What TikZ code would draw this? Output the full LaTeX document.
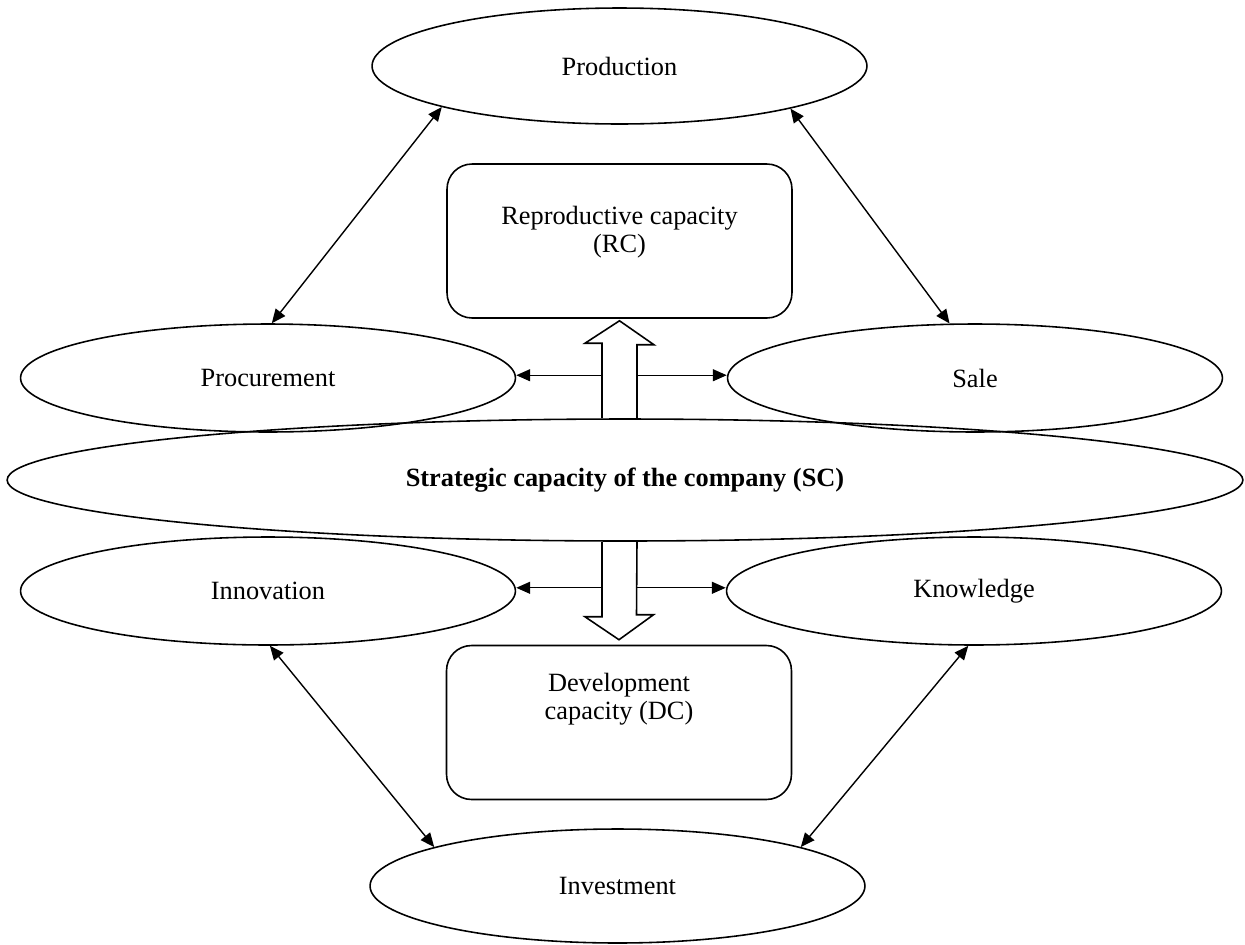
\documentclass[tikz,border=0pt]{standalone}
\usepackage{fontspec}
\setmainfont{Liberation Serif}
\usetikzlibrary{arrows.meta,shapes.geometric,calc}

\begin{document}
\begin{tikzpicture}[
    x=0.02cm, y=-0.02cm,
    font=\fontsize{15}{16}\selectfont,
    oval/.style={ellipse, draw, line width=0.9pt, inner sep=0pt, minimum width=9.9cm, minimum height=2.16cm},
    capbox/.style={rectangle, draw, line width=0.9pt, rounded corners=0.5cm, minimum width=6.9cm, minimum height=3.08cm},
    note/.style={align=center, inner sep=0pt},
    link/.style={line width=0.8pt, -{Triangle[length=0.28cm, width=0.24cm]}},
    both/.style={line width=0.8pt, {Triangle[length=0.28cm, width=0.24cm]}-{Triangle[length=0.28cm, width=0.24cm]}},
    hollow/.style={line width=0.9pt, line join=miter}
]

\useasboundingbox (0,0) rectangle (1245,944);

\node[oval, minimum height=2.32cm] (prod) at (619.5,66) {Production};
\node[oval] (proc) at (268,378) {Procurement};
\node[oval] (sale) at (975,378) {Sale};
\node[oval, minimum width=24.72cm, minimum height=2.44cm] (sc) at (625,480) {\textbf{Strategic capacity of the company (SC)}};
\node[oval] (innov) at (268,591) {Innovation};
\node[oval] (know) at (974,591) {Knowledge};
\node[oval, minimum height=2.28cm] (inv) at (617.5,886) {Investment};

\node[capbox] (rc) at (619.5,241) {};
\node[note] (rctext) at (619.5,232) {Reproductive capacity\\(RC)};
\node[capbox] (dc) at (619,722.5) {};
\node[note] (dctext) at (619,699) {Development\\capacity (DC)};

\coordinate (upbase) at (rc.south |- sc.north);
\coordinate (dnbase) at (rc.south |- sc.south);
\coordinate (upL) at ($(upbase)+(-17.5,-43)$);
\coordinate (upR) at ($(upbase)+(17.5,-43)$);
\coordinate (dnL) at ($(dnbase)+(-17.5,46)$);
\coordinate (dnR) at ($(dnbase)+(17.5,46)$);

\draw[hollow] ($(upbase)+(-17.5,0)$) -- ++(0,-75) -- ++(-17,0) -- ($(rc.south)+(0,2)$)
    -- ++(34.5,24) -- ++(-17,0) -- ($(upbase)+(17.5,0)$);
\draw[hollow] ($(dnbase)+(-17.5,0)$) -- ++(0,75) -- ++(-17,0) -- ($(dc.north)+(0,-5)$)
    -- ++(34.5,-25) -- ++(-17,0) -- ($(dnbase)+(17.5,0)$);

\draw[link] (upL) -- (upL -| proc.east);
\draw[link] (upR) -- (upR -| sale.west);
\draw[link] (dnL) -- (dnL -| innov.east);
\draw[link] (dnR) -- (dnR -| know.west);

\draw[both] (prod.193) -- (proc.86);
\draw[both] (prod.346) -- (sale.115);
\draw[both] (innov.272) -- (inv.168);
\draw[both] (know.264) -- (inv.12);

\end{tikzpicture}
\end{document}
